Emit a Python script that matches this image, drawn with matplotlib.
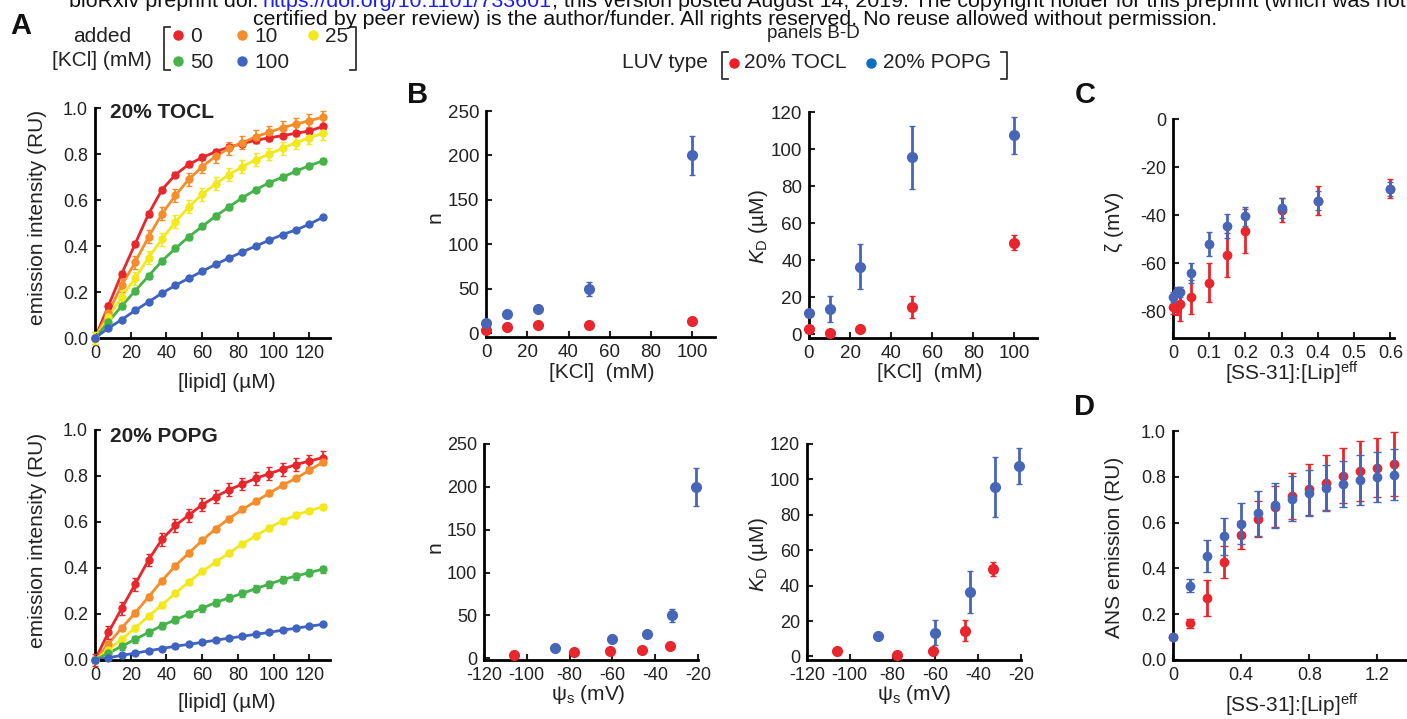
import numpy as np
import matplotlib.pyplot as plt

plt.rcParams['font.family'] = ['Liberation Sans', 'DejaVu Sans']
plt.rcParams['mathtext.fontset'] = 'custom'
plt.rcParams['mathtext.rm'] = 'Liberation Sans'
plt.rcParams['mathtext.it'] = 'Liberation Sans:italic'
plt.rcParams['mathtext.bf'] = 'Liberation Sans:bold'
plt.rcParams['axes.unicode_minus'] = False

W, H = 1407, 719

# ---- panel A: emission vs lipid, one series per added KCl
LIPID = [0, 7.5, 15, 22.5, 30, 37.5, 45, 52.5, 60, 67.5, 75, 82.5, 90, 97.5, 105, 112.5, 120, 127.5]
KCL_LABELS = ['0', '10', '25', '50', '100']
KCL_COLORS = ['#e8262b', '#f58d2a', '#f2e81c', '#45b349', '#3f63c0']

TOCL_CURVES = [
    [0, 0.14, 0.28, 0.41, 0.54, 0.645, 0.71, 0.755, 0.785, 0.81, 0.83, 0.845, 0.86, 0.87, 0.88, 0.89, 0.90, 0.92],
    [0, 0.11, 0.23, 0.33, 0.44, 0.54, 0.62, 0.69, 0.745, 0.79, 0.825, 0.85, 0.875, 0.895, 0.915, 0.93, 0.945, 0.96],
    [0, 0.09, 0.18, 0.26, 0.35, 0.43, 0.505, 0.57, 0.625, 0.67, 0.71, 0.745, 0.775, 0.80, 0.825, 0.85, 0.87, 0.89],
    [0, 0.07, 0.14, 0.205, 0.27, 0.335, 0.39, 0.44, 0.485, 0.53, 0.57, 0.61, 0.645, 0.675, 0.70, 0.725, 0.75, 0.77],
    [0, 0.043, 0.08, 0.12, 0.157, 0.195, 0.229, 0.26, 0.29, 0.32, 0.348, 0.374, 0.40, 0.425, 0.45, 0.47, 0.495, 0.525],
]
TOCL_ERR = [0.012, 0.028, 0.028, 0.012, 0.006]

POPG_CURVES = [
    [0, 0.12, 0.225, 0.33, 0.435, 0.525, 0.585, 0.63, 0.675, 0.71, 0.74, 0.765, 0.79, 0.81, 0.83, 0.85, 0.865, 0.88],
    [0, 0.07, 0.14, 0.205, 0.275, 0.345, 0.41, 0.465, 0.52, 0.57, 0.615, 0.655, 0.69, 0.725, 0.76, 0.79, 0.825, 0.86],
    [0, 0.045, 0.09, 0.14, 0.19, 0.24, 0.29, 0.34, 0.385, 0.425, 0.465, 0.505, 0.54, 0.575, 0.605, 0.63, 0.65, 0.665],
    [0, 0.03, 0.06, 0.09, 0.12, 0.15, 0.175, 0.20, 0.225, 0.25, 0.27, 0.29, 0.31, 0.33, 0.35, 0.365, 0.38, 0.395],
    [0, 0.01, 0.02, 0.03, 0.04, 0.05, 0.06, 0.068, 0.077, 0.086, 0.095, 0.103, 0.112, 0.12, 0.13, 0.138, 0.147, 0.155],
]
POPG_ERR = [0.028, 0.012, 0.012, 0.015, 0.008]

# ---- panel B: fit parameters
KCL = [0, 10, 25, 50, 100]
PSI_TOCL = [-106, -78, -61, -46, -33]
PSI_POPG = [-87, -60, -44, -32, -21]
N_TOCL = [4, 7, 9, 10, 14]
N_TOCL_ERR = [1, 1, 1, 1, 1]
N_POPG = [12, 22, 28, 50, 200]
N_POPG_ERR = [1, 1, 1, 8, 22]
KD_TOCL = [3, 0.7, 3, 14.6, 49.5]
KD_TOCL_ERR = [0.5, 0.5, 0.7, 6, 4]
KD_POPG = [11.6, 13.5, 36.5, 95.5, 107.5]
KD_POPG_ERR = [1, 7, 12, 17, 10]

# ---- panel C: zeta potential
RATIO_C = [0, 0.01, 0.02, 0.05, 0.1, 0.15, 0.2, 0.3, 0.4, 0.6]
ZETA_TOCL = [-78, -78.5, -77, -74, -68, -56.5, -46.5, -38, -34, -29]
ZETA_TOCL_ERR = [3, 3, 7, 7, 8, 9, 9, 5, 6, 4]
ZETA_POPG = [-74, -72, -72, -64, -52, -44.5, -40.5, -37, -34, -29]
ZETA_POPG_ERR = [2, 2, 2, 4, 5, 5, 4, 4, 4, 3]

# ---- panel D: ANS emission
RATIO_D = [0, 0.1, 0.2, 0.3, 0.4, 0.5, 0.6, 0.7, 0.8, 0.9, 1.0, 1.1, 1.2, 1.3]
ANS_TOCL = [0.10, 0.16, 0.27, 0.43, 0.545, 0.615, 0.67, 0.715, 0.745, 0.775, 0.805, 0.825, 0.84, 0.855]
ANS_TOCL_ERR = [0.01, 0.02, 0.08, 0.07, 0.06, 0.08, 0.09, 0.1, 0.11, 0.12, 0.12, 0.13, 0.13, 0.14]
ANS_POPG = [0.10, 0.325, 0.455, 0.54, 0.595, 0.64, 0.675, 0.705, 0.73, 0.75, 0.77, 0.785, 0.80, 0.81]
ANS_POPG_ERR = [0.01, 0.03, 0.07, 0.08, 0.09, 0.1, 0.1, 0.1, 0.1, 0.1, 0.1, 0.11, 0.11, 0.11]

RED = '#e9252d'
BLUE = '#4766b8'

fig = plt.figure(figsize=(W / 100, H / 100), dpi=100)
fig.patch.set_facecolor('white')


def px_axes(left, top, right, bottom):
    return fig.add_axes([left / W, 1 - bottom / H, (right - left) / W, (bottom - top) / H])


def style(ax, size=13):
    for s in ['top', 'right']:
        ax.spines[s].set_visible(False)
    for s in ['left', 'bottom']:
        ax.spines[s].set_linewidth(2)
    ax.tick_params(direction='in', length=4, width=1.5, labelsize=size, pad=5, colors='#222222')


def binding(ax, curves, errs):
    for col, y, e in zip(KCL_COLORS, curves, errs):
        ax.plot(LIPID, y, '-', color=col, lw=2, zorder=2, clip_on=False)
        ax.errorbar(LIPID, y, yerr=e, fmt='o', color=col, ms=5, elinewidth=1.3,
                    capsize=2, zorder=3, clip_on=False)
    ax.set_xlim(0, 131.5)
    ax.set_ylim(0, 1.0)
    ax.set_xticks([0, 20, 40, 60, 80, 100, 120])
    ax.set_yticks([0, 0.2, 0.4, 0.6, 0.8, 1.0])
    ax.set_yticklabels(['0.0', '0.2', '0.4', '0.6', '0.8', '1.0'])
    style(ax)


def pair(ax, x1, y1, e1, x2, y2, e2, ms=7, cap=2.5):
    ax.errorbar(x1, y1, yerr=e1, fmt='o', color=RED, ms=ms, elinewidth=2, capsize=cap, clip_on=False, zorder=3)
    ax.errorbar(x2, y2, yerr=e2, fmt='o', color=BLUE, ms=ms, elinewidth=2, capsize=cap, clip_on=False, zorder=4)


# panel A
axA1 = px_axes(95, 108, 330, 338)
binding(axA1, TOCL_CURVES, TOCL_ERR)
axA2 = px_axes(95, 430, 330, 660)
binding(axA2, POPG_CURVES, POPG_ERR)

# panel B
axB1 = px_axes(486, 111, 715, 337)
pair(axB1, KCL, N_TOCL, N_TOCL_ERR, KCL, N_POPG, N_POPG_ERR)
axB1.set_xlim(0, 111)
axB1.set_ylim(-4, 250)
axB1.set_xticks([0, 20, 40, 60, 80, 100])
axB1.set_yticks([0, 50, 100, 150, 200, 250])
style(axB1, 13.5)

axB2 = px_axes(809, 112, 1037, 338)
pair(axB2, KCL, KD_TOCL, KD_TOCL_ERR, KCL, KD_POPG, KD_POPG_ERR)
axB2.set_xlim(0, 111)
axB2.set_ylim(-2, 120)
axB2.set_xticks([0, 20, 40, 60, 80, 100])
axB2.set_yticks([0, 20, 40, 60, 80, 100, 120])
style(axB2, 13.5)

axB3 = px_axes(484, 444, 698, 660)
pair(axB3, PSI_TOCL, N_TOCL, N_TOCL_ERR, PSI_POPG, N_POPG, N_POPG_ERR)
axB3.set_xlim(-120, -20)
axB3.set_ylim(-2, 250)
axB3.set_xticks([-120, -100, -80, -60, -40, -20])
axB3.set_yticks([0, 50, 100, 150, 200, 250])
style(axB3)

axB4 = px_axes(807, 444, 1021, 660)
pair(axB4, PSI_TOCL, KD_TOCL, KD_TOCL_ERR, PSI_POPG, KD_POPG, KD_POPG_ERR)
axB4.set_xlim(-120, -20)
axB4.set_ylim(-2, 120)
axB4.set_xticks([-120, -100, -80, -60, -40, -20])
axB4.set_yticks([0, 20, 40, 60, 80, 100, 120])
style(axB4)

# panel C
axC = px_axes(1173, 119, 1394, 338)
pair(axC, RATIO_C, ZETA_TOCL, ZETA_TOCL_ERR, RATIO_C, ZETA_POPG, ZETA_POPG_ERR, ms=6, cap=2.5)
axC.set_xlim(0, 0.61)
axC.set_ylim(-91, 0)
axC.set_xticks([0, 0.1, 0.2, 0.3, 0.4, 0.5, 0.6])
axC.set_xticklabels(['0', '0.1', '0.2', '0.3', '0.4', '0.5', '0.6'])
axC.set_yticks([0, -20, -40, -60, -80])
style(axC)

# panel D
axD = px_axes(1173, 431, 1420, 660)
pair(axD, RATIO_D, ANS_TOCL, ANS_TOCL_ERR, RATIO_D, ANS_POPG, ANS_POPG_ERR, ms=6, cap=3)
axD.set_xlim(0, 1.45)
axD.set_ylim(0, 1.0)
axD.set_xticks([0, 0.4, 0.8, 1.2])
axD.set_xticklabels(['0', '0.4', '0.8', '1.2'])
axD.set_yticks([0, 0.2, 0.4, 0.6, 0.8, 1.0])
axD.set_yticklabels(['0.0', '0.2', '0.4', '0.6', '0.8', '1.0'])
style(axD)

# overlay in pixel coordinates for texts, legends and brackets
bg = fig.add_axes([0, 0, 1, 1], zorder=10)
bg.set_xlim(0, W)
bg.set_ylim(H, 0)
bg.axis('off')
bg.patch.set_alpha(0)

TXT = '#222222'


def t(x, y, s, size=14, **kw):
    kw.setdefault('ha', 'center')
    kw.setdefault('va', 'center')
    kw.setdefault('color', TXT)
    return bg.text(x, y, s, fontsize=size, **kw)


# header
HDR = 15.4
link = t(263, 7, 'https://doi.org/10.1101/733601', HDR, ha='left', va='baseline', color='#1a1aff')
t(258, 7, 'bioRxiv preprint doi:', HDR, ha='right', va='baseline', color='#111111')
bg.annotate('; this version posted August 14, 2019. The copyright holder for this preprint (which was not',
            xy=(1, 0), xycoords=link, va='bottom', ha='left', fontsize=HDR, color='#111111')
t(813, 34, 'panels B-D', 13.5)
t(735, 25, 'certified by peer review) is the author/funder. All rights reserved. No reuse allowed without permission.',
  HDR, va='baseline', color='#111111')

# panel letters
for x, y, s in [(21, 26, 'A'), (418, 95, 'B'), (1085, 95, 'C'), (1085, 407, 'D')]:
    t(x, y, s, 21, fontweight='bold', color='#111111')

t(110, 113, '20% TOCL', 15, ha='left', fontweight='bold')
t(110, 437, '20% POPG', 15, ha='left', fontweight='bold')


def bracket(x, y0, y1, sign):
    bg.plot([x + sign * 6, x, x, x + sign * 6], [y0, y0, y1, y1], color='#333333', lw=1.3)


# KCl legend
t(102, 37, 'added', 15)
t(102, 61, '[KCl] (mM)', 15)
bracket(164, 27, 70, 1)
bracket(356, 27, 70, -1)
leg_pos = [(178, 35), (242, 35), (313, 35), (178, 61), (242, 61)]
for (x, y), col, lab in zip(leg_pos, KCL_COLORS, KCL_LABELS):
    bg.plot(x, y, 'o', color=col, ms=6.5)
    t(x + 12, y + 1, lab, 15, ha='left')

# LUV legend
t(665, 63, 'LUV type', 15)
bracket(722, 52, 79, 1)
bracket(1007, 52, 79, -1)
bg.plot(734, 63, 'o', color='#ee1c25', ms=6.5)
t(744, 63, '20% TOCL', 15, ha='left')
bg.plot(871, 63, 'o', color='#0a6fc2', ms=6.5)
t(883, 63, '20% POPG', 15, ha='left')

# axis labels
t(38, 217, 'emission intensity (RU)', 15, rotation=90)
t(38, 540, 'emission intensity (RU)', 15, rotation=90)
t(227, 383, '[lipid] (µM)', 15)
t(227, 703, '[lipid] (µM)', 15)

t(435, 217, 'n', 15, rotation=90)
t(435, 547, 'n', 15, rotation=90)
t(602, 373, '[KCl]  (mM)', 15)
t(930, 373, '[KCl]  (mM)', 15)
t(758, 227, '$K_\\mathrm{D}$ (µM)', 15, rotation=90)
t(758, 555, '$K_\\mathrm{D}$ (µM)', 15, rotation=90)
t(588, 695, 'ψ$_\\mathrm{s}$ (mV)', 15)
t(914, 695, 'ψ$_\\mathrm{s}$ (mV)', 15)

t(1115, 222, 'ζ (mV)', 15, rotation=90)
t(1115, 547, 'ANS emission (RU)', 15, rotation=90)
t(1292, 373, '[SS-31]:[Lip]$^\\mathrm{eff}$', 15)
t(1292, 705, '[SS-31]:[Lip]$^\\mathrm{eff}$', 15)

fig.savefig('out.png', dpi=100, facecolor='white')
